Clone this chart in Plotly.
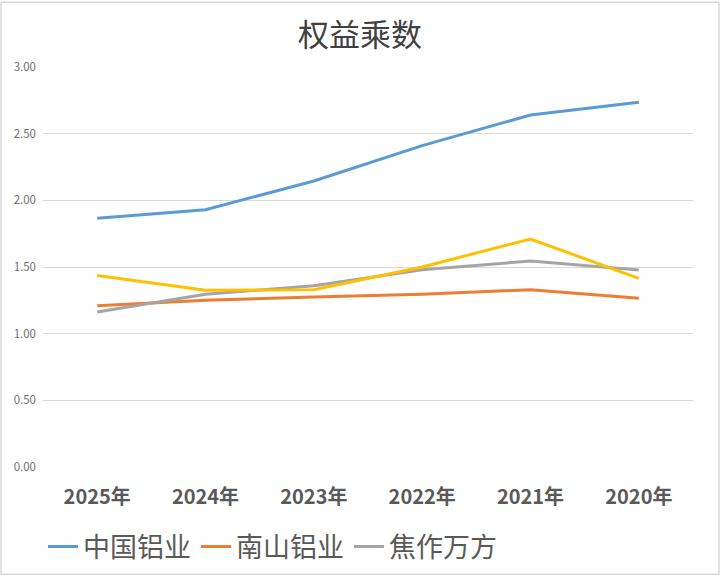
import plotly.graph_objects as go

years = ["2025年", "2024年", "2023年", "2022年", "2021年", "2020年"]
chalco = [1.865, 1.93, 2.145, 2.41, 2.64, 2.735]
nanshan = [1.21, 1.25, 1.275, 1.295, 1.33, 1.265]
jiaozuo = [1.162, 1.295, 1.36, 1.48, 1.545, 1.477]
fourth = [1.437, 1.325, 1.33, 1.50, 1.71, 1.415]

names = ["中国铝业", "南山铝业", "焦作万方", "其他"]
colors = ["#5B9BD5", "#ED7D31", "#A5A5A5", "#FFC000"]
series = [chalco, nanshan, jiaozuo, fourth]
y_ticks = [0, 0.5, 1.0, 1.5, 2.0, 2.5, 3.0]

font_cjk = "Noto Sans CJK SC, Noto Sans, sans-serif"

fig = go.Figure()
for i, (n, c, s) in enumerate(zip(names, colors, series)):
    fig.add_trace(go.Scatter(
        x=years, y=s, name=n, mode="lines",
        line=dict(color=c, width=3),
        showlegend=(i < 3),
    ))

fig.update_layout(
    width=720, height=584,
    margin=dict(l=43, r=27, t=67, b=110),
    paper_bgcolor="white", plot_bgcolor="white",
    font=dict(family=font_cjk, color="#595959"),
    title=dict(text="权益乘数", x=0.5, xanchor="center", y=0.94, yanchor="middle",
               font=dict(size=31, color="#404040", family=font_cjk)),
    legend=dict(orientation="h", x=0.0, xanchor="left", y=-0.2, yanchor="middle",
                font=dict(size=27, color="#595959", family=font_cjk),
                itemwidth=30, tracegroupgap=0, bgcolor="rgba(0,0,0,0)"),
    xaxis=dict(showgrid=False, showline=False, ticks="", range=[-0.5, 5.5],
               automargin=False, ticklabelstandoff=16,
               tickfont=dict(size=20, color="#595959", family=font_cjk, weight="bold")),
    yaxis=dict(range=[0, 3.0], tickvals=y_ticks, tickformat=".2f",
               showgrid=True, gridcolor="#D9D9D9", gridwidth=1,
               zeroline=False, showline=False, ticks="", automargin=False,
               ticklabelstandoff=6,
               tickfont=dict(size=11.5, color="#6f6f6f", family=font_cjk)),
    shapes=[dict(type="rect", xref="paper", yref="paper",
                 x0=-42/650, x1=1+26/650, y0=-109/407, y1=1+66/407,
                 line=dict(color="#D9D9D9", width=1.5))],
)

fig.write_html("out.html",
               config={"displayModeBar": False},
               post_script="document.body.style.margin='0';document.body.style.overflow='hidden';")
